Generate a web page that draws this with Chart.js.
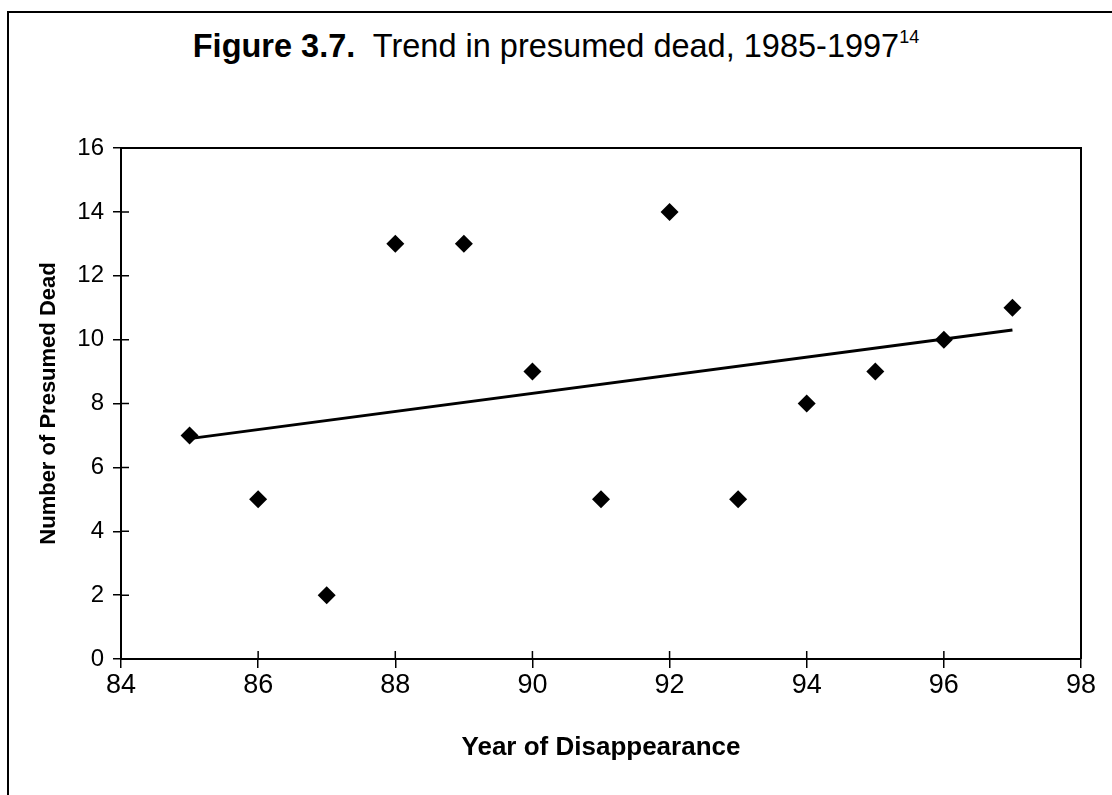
<!DOCTYPE html>
<html>
<head>
<meta charset="utf-8">
<script src="https://cdn.jsdelivr.net/npm/chart.js@4"></script>
<style>
  body { margin: 0; background: #fff; }
  #wrap { position: relative; width: 1112px; height: 795px; overflow: hidden; }
  #frame { position: absolute; left: 7px; top: 11px; right: -10px; bottom: -10px; border-top: 2px solid #000; border-left: 2px solid #000; }
  #titulo { position: absolute; left: 0; width: 1112px; top: 28px; text-align: center; font-family: "Liberation Sans", Arial, sans-serif; font-size: 32.5px; color: #000; white-space: nowrap; }
  #titulo sup { font-size: 18px; position: relative; top: -2px; }
  canvas { position: absolute; left: 0; top: 0; }
</style>
</head>
<body>
<div id="wrap">
  <div id="frame"></div>
  <div id="titulo"><b>Figure 3.7.</b>&nbsp; Trend in presumed dead, 1985-1997<sup>14</sup></div>
  <canvas id="myChart" width="1112" height="795"></canvas>
</div>
<script>
const anos = [85, 86, 87, 88, 89, 90, 91, 92, 93, 94, 95, 96, 97];
const mortos = [7, 5, 2, 13, 13, 9, 5, 14, 5, 8, 9, 10, 11];
const tendenciaX = [85, 97];
const tendenciaY = [6.9, 10.3];
const ticksX = [84, 86, 88, 90, 92, 94, 96, 98];
const ticksY = [0, 2, 4, 6, 8, 10, 12, 14, 16];

const fonte = "'Liberation Sans', Arial, sans-serif";

// moldura do grafico + marcas internas dos ticks
const molduraPlugin = {
  id: 'moldura',
  afterDraw(chart) {
    const { ctx, chartArea: a, scales } = chart;
    ctx.save();
    ctx.strokeStyle = '#000';
    ctx.lineWidth = 2;
    ctx.beginPath();
    ctx.moveTo(a.left, a.top);
    ctx.lineTo(a.right, a.top);
    ctx.lineTo(a.right, a.bottom);
    ctx.stroke();
    ctx.lineWidth = 1.5;
    ctx.beginPath();
    ticksY.forEach(v => {
      const y = scales.y.getPixelForValue(v);
      ctx.moveTo(a.left, y);
      ctx.lineTo(a.left + 8, y);
    });
    ticksX.forEach(v => {
      const x = scales.x.getPixelForValue(v);
      ctx.moveTo(x, a.bottom);
      ctx.lineTo(x, a.bottom - 8);
    });
    ctx.stroke();
    ctx.restore();
  }
};

const ctx = document.getElementById('myChart');

new Chart(ctx, {
  type: 'scatter',
  data: {
    datasets: [{
      label: 'Presumed dead',
      data: anos.map((a, i) => ({ x: a, y: mortos[i] })),
      pointStyle: 'rectRot',
      pointRadius: 9,
      backgroundColor: '#000',
      borderColor: '#000',
      borderWidth: 0,
      order: 1
    }, {
      type: 'line',
      label: 'Trend',
      data: tendenciaX.map((a, i) => ({ x: a, y: tendenciaY[i] })),
      borderColor: '#000',
      borderWidth: 3,
      pointRadius: 0,
      fill: false,
      order: 2
    }]
  },
  options: {
    responsive: false,
    animation: false,
    layout: { padding: { left: 0, right: 31, top: 148, bottom: 28 } },
    plugins: {
      legend: { display: false },
      tooltip: { enabled: false },
      title: { display: false }
    },
    scales: {
      x: {
        type: 'linear',
        min: 84,
        max: 98,
        afterBuildTicks: scale => { scale.ticks = ticksX.map(v => ({ value: v })); },
        afterFit: scale => { scale.height = 108; },
        grid: { drawOnChartArea: false, color: '#000', tickLength: 9, lineWidth: 1.5 },
        border: { color: '#000', width: 2 },
        ticks: { color: '#000', font: { family: fonte, size: 27 }, padding: 1 },
        title: { display: true, text: 'Year of Disappearance', color: '#000', font: { family: fonte, size: 26, weight: 'bold' }, padding: { top: 6 } }
      },
      y: {
        min: 0,
        max: 16,
        afterBuildTicks: scale => { scale.ticks = ticksY.map(v => ({ value: v })); },
        afterFit: scale => { scale.width = 121; },
        grid: { drawOnChartArea: false, color: '#000', tickLength: 8, lineWidth: 1.5 },
        border: { color: '#000', width: 2 },
        ticks: { color: '#000', font: { family: fonte, size: 24 }, padding: 9 },
        title: { display: true, text: 'Number of Presumed Dead', color: '#000', font: { family: fonte, size: 22, weight: 'bold' }, padding: { top: 36, bottom: 0 } }
      }
    }
  },
  plugins: [molduraPlugin]
});
</script>
</body>
</html>
